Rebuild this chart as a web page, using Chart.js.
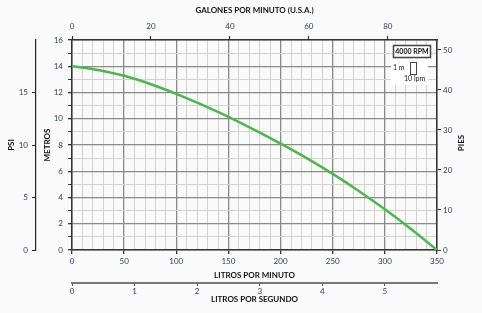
<!DOCTYPE html>
<html>
<head>
<meta charset="utf-8">
<script src="https://cdn.jsdelivr.net/npm/chart.js@4/dist/chart.umd.min.js"></script>
<style>
  html, body { margin: 0; background: #fafafa; }
  canvas { display: block; }
</style>
</head>
<body>
<canvas id="curvaBomba" width="482" height="313"></canvas>
<script>
// Datos de la curva (litros por minuto -> metros)
const litrosMinuto = [0, 25, 50, 75, 100, 125, 150, 175, 200, 225, 250, 275, 300, 325, 350];
const metros = [14, 13.72, 13.27, 12.65, 11.9, 11.05, 10.15, 9.15, 8.1, 7.0, 5.8, 4.5, 3.1, 1.6, 0];

// Etiquetas de los ejes secundarios
const ticksGalones = [0, 20, 40, 60, 80];
const ticksLps = [0, 1, 2, 3, 4, 5];
const ticksPies = [0, 10, 20, 30, 40, 50];
const ticksPsi = [0, 5, 10, 15];

const colorTexto = '#2f3d5c';
const fuenteTick = { family: 'Lato', size: 8 };
const fuenteTitulo = { family: 'Lato', size: 8, weight: 'bold' };

const fijarTicks = lista => s => { s.ticks = lista.map(v => ({ value: v })); };

// Recuadro "4000 RPM", escala y titulo PIES
const extras = {
  id: 'extras',
  afterDraw(chart) {
    const ctx = chart.ctx;
    ctx.save();
    ctx.fillStyle = '#ffffff';
    ctx.fillRect(391, 59, 37, 26);
    ctx.fillRect(393, 45, 38, 12);
    ctx.strokeStyle = '#444';
    ctx.lineWidth = 1.5;
    ctx.strokeRect(393.5, 45.5, 37, 12);
    ctx.fillStyle = '#111';
    ctx.font = 'bold 7px Lato';
    ctx.textAlign = 'center';
    ctx.textBaseline = 'middle';
    ctx.fillText('4000 RPM', 412, 51.5);
    ctx.lineWidth = 1;
    ctx.strokeRect(410.5, 62.5, 6, 12);
    ctx.font = '7px Lato';
    ctx.textAlign = 'left';
    ctx.fillText('1 m', 393, 68);
    ctx.fillText('10 lpm', 404, 78.5);
    ctx.font = 'bold 8px Lato';
    ctx.textAlign = 'center';
    ctx.translate(461, 143);
    ctx.rotate(-Math.PI / 2);
    ctx.fillText('PIES', 0, 0);
    ctx.restore();
  }
};

new Chart(document.getElementById('curvaBomba').getContext('2d'), {
  type: 'line',
  data: {
    datasets: [{
      data: litrosMinuto.map((x, i) => ({ x: x, y: metros[i] })),
      borderColor: '#4cb84c',
      borderWidth: 2.5,
      pointRadius: 0,
      fill: false,
      tension: 0.4
    }]
  },
  options: {
    responsive: false,
    animation: false,
    layout: { padding: 0 },
    plugins: { legend: { display: false }, tooltip: { enabled: false } },
    scales: {
      x: {
        type: 'linear', position: 'bottom', weight: 0, min: 0, max: 350,
        afterFit: s => { s.height = 33; },
        ticks: {
          stepSize: 10, autoSkip: false, maxRotation: 0, padding: 3,
          color: colorTexto, font: fuenteTick,
          callback: v => (v % 50 === 0 ? v : '')
        },
        grid: {
          color: c => (c.tick && c.tick.value % 50 === 0 ? '#8a8a8a' : '#d2d2d2'),
          lineWidth: c => (c.tick && c.tick.value % 50 === 0 ? 1.3 : 1),
          tickColor: c => (c.tick && c.tick.value % 50 === 0 ? '#333' : 'rgba(0,0,0,0)'),
          tickLength: 4
        },
        border: { color: '#333', width: 1.5 },
        title: { display: true, text: 'LITROS POR MINUTO', color: '#111', font: fuenteTitulo, padding: { top: 0, bottom: 3.2 } }
      },
      xLps: {
        type: 'linear', position: 'bottom', weight: 1, min: 0, max: 350 / 60,
        afterBuildTicks: fijarTicks(ticksLps),
        afterFit: s => { s.height = 30; },
        ticks: { color: colorTexto, font: fuenteTick, padding: 1, maxRotation: 0, autoSkip: false },
        grid: { drawOnChartArea: false, tickLength: 3, tickColor: '#555' },
        border: { color: '#777', width: 2 },
        title: { display: true, text: 'LITROS POR SEGUNDO', color: '#111', font: fuenteTitulo, padding: { top: 0, bottom: 9.2 } }
      },
      xGal: {
        type: 'linear', position: 'top', min: 0, max: 350 * 0.264172,
        afterBuildTicks: fijarTicks(ticksGalones),
        afterFit: s => { s.height = 40; },
        ticks: { color: colorTexto, font: fuenteTick, padding: 5, maxRotation: 0, autoSkip: false },
        grid: { drawOnChartArea: false, tickLength: 4, tickColor: '#333', tickWidth: 1.2 },
        border: { color: '#333', width: 1.5 },
        title: { display: true, text: 'GALONES POR MINUTO (U.S.A.)', color: '#111', font: fuenteTitulo, padding: { top: 6, bottom: 0 } }
      },
      y: {
        type: 'linear', position: 'left', weight: 0, min: 0, max: 16,
        afterFit: s => { s.width = 36; },
        ticks: {
          stepSize: 1, autoSkip: false, padding: 5, color: colorTexto, font: fuenteTick,
          callback: v => (v % 2 === 0 ? v : '')
        },
        grid: {
          color: c => (c.tick && c.tick.value % 2 === 0 ? '#8a8a8a' : '#d2d2d2'),
          lineWidth: c => (c.tick && c.tick.value % 2 === 0 ? 1.3 : 1),
          tickColor: '#333',
          tickLength: 4
        },
        border: { color: '#333', width: 1.5 },
        title: { display: true, text: 'METROS', color: '#111', font: fuenteTitulo, padding: { top: 6.2, bottom: 0 } }
      },
      yPsi: {
        type: 'linear', position: 'left', weight: 1, min: 0, max: 20,
        afterBuildTicks: fijarTicks(ticksPsi),
        afterFit: s => { s.width = 36; },
        ticks: { color: colorTexto, font: fuenteTick, padding: 4 },
        grid: { drawOnChartArea: false, tickLength: 4, tickColor: '#222' },
        border: { color: '#222', width: 1.2 },
        title: { display: true, text: 'PSI', color: '#111', font: fuenteTitulo, padding: { top: 7, bottom: 0 } }
      },
      yPies: {
        type: 'linear', position: 'right', min: 0, max: 16 * 3.28084,
        afterBuildTicks: fijarTicks(ticksPies),
        afterFit: s => { s.width = 45; },
        ticks: { color: colorTexto, font: fuenteTick, padding: 2 },
        grid: { drawOnChartArea: false, tickLength: 4, tickColor: '#333' },
        border: { color: '#333', width: 1.5 }
      }
    }
  },
  plugins: [extras]
});
</script>
</body>
</html>
